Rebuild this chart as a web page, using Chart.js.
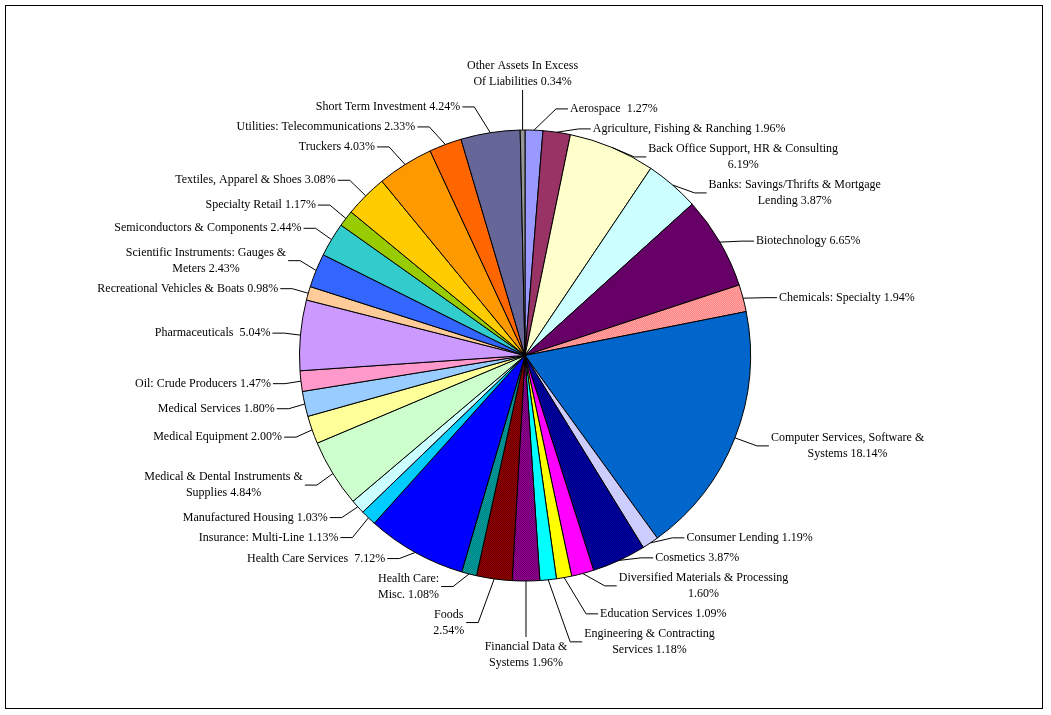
<!DOCTYPE html>
<html>
<head>
<meta charset="utf-8">
<title>Sector Allocation</title>
<script src="https://cdn.jsdelivr.net/npm/chart.js@4.4.0/dist/chart.umd.min.js"></script>
<style>
    html, body { margin: 0; padding: 0; background: #fff; }
    #wrap { width: 1051px; height: 715px; position: relative; }
</style>
</head>
<body>
<div id="wrap"><canvas id="sectorChart" width="1051" height="715"></canvas></div>
<script>
// Sector names, clockwise from 12 o'clock ("\n" = forced line break in the label)
const sectors = [
    'Aerospace ',
    'Agriculture, Fishing & Ranching',
    'Back Office Support, HR & Consulting\n',
    'Banks: Savings/Thrifts & Mortgage\nLending',
    'Biotechnology',
    'Chemicals: Specialty',
    'Computer Services, Software &\nSystems',
    'Consumer Lending',
    'Cosmetics',
    'Diversified Materials & Processing\n',
    'Education Services',
    'Engineering & Contracting\nServices',
    'Financial Data &\nSystems',
    'Foods\n',
    'Health Care:\nMisc.',
    'Health Care Services ',
    'Insurance: Multi-Line',
    'Manufactured Housing',
    'Medical & Dental Instruments &\nSupplies',
    'Medical Equipment',
    'Medical Services',
    'Oil: Crude Producers',
    'Pharmaceuticals ',
    'Recreational Vehicles & Boats',
    'Scientific Instruments: Gauges &\nMeters',
    'Semiconductors & Components',
    'Specialty Retail',
    'Textiles, Apparel & Shoes',
    'Truckers',
    'Utilities: Telecommunications',
    'Short Term Investment',
    'Other Assets In Excess\nOf Liabilities'
];

// Percent of net assets
const weights = [
    1.27, 1.96, 6.19, 3.87, 6.65, 1.94, 18.14, 1.19, 3.87, 1.60, 1.09,
    1.18, 1.96, 2.54, 1.08, 7.12, 1.13, 1.03, 4.84, 2.00, 1.80, 1.47,
    5.04, 0.98, 2.43, 2.44, 1.17, 3.08, 4.03, 2.33, 4.24, 0.34
];

// Fill colours (second entry = checker tone for the dotted slices)
const sliceColors = [
    '#9999ff', '#993366', '#ffffcc', '#ccffff', '#660066', ['#ff8080', '#ffa8a8'],
    '#0066cc', '#ccccff', ['#000080', '#0000a8'], '#ff00ff', '#ffff00',
    '#00ffff', ['#990099', '#660066'], ['#990000', '#660000'], ['#008080', '#00a0a0'],
    '#0000ff', '#00ccff', '#ccffff', '#ccffcc', '#ffff99', '#99ccff', '#ff99cc',
    '#cc99ff', '#ffcc99', '#3366ff', '#33cccc', '#99cc00', '#ffcc00', '#ff9900',
    '#ff6600', '#666699', '#969696'
];

const canvas = document.getElementById('sectorChart');
const mainCtx = canvas.getContext('2d');

/**
 * Build a 1px checkerboard pattern from two tones
 */
function checker(c1, c2) {
    const tile = document.createElement('canvas');
    tile.width = 2;
    tile.height = 2;
    const g = tile.getContext('2d');
    g.fillStyle = c1;
    g.fillRect(0, 0, 2, 2);
    g.fillStyle = c2;
    g.fillRect(0, 0, 1, 1);
    g.fillRect(1, 1, 1, 1);
    return mainCtx.createPattern(tile, 'repeat');
}

const fills = sliceColors.map(c => Array.isArray(c) ? checker(c[0], c[1]) : c);

function labelText(i) {
    const name = sectors[i];
    const sep = name.endsWith('\n') ? '' : ' ';
    return name + sep + weights[i].toFixed(2) + '%';
}

/**
 * Draws the outside labels with leader lines and the outer frame
 */
const outsideLabels = {
    id: 'outsideLabels',
    afterDatasetsDraw(chart) {
        const ctx = chart.ctx;
        const arcs = chart.getDatasetMeta(0).data;
        const lh = 16;
        ctx.save();
        ctx.font = '12px "Liberation Serif", "Times New Roman", serif';

        const items = arcs.map((arc, i) => {
            const p = arc.getProps(['x', 'y', 'startAngle', 'endAngle', 'outerRadius'], true);
            const mid = (p.startAngle + p.endAngle) / 2;
            const cx = Math.cos(mid);
            const sy = Math.sin(mid);
            const ax = p.x + p.outerRadius * cx;
            const ay = p.y + p.outerRadius * sy;
            const lines = labelText(i).split('\n');
            const w = Math.max(...lines.map(l => ctx.measureText(l).width));
            const h = lines.length * lh;
            let side;
            if (cx > 0.03) side = 'right';
            else if (cx < -0.03) side = 'left';
            else side = sy < 0 ? 'top' : 'bottom';
            // upper-right labels sit level with their slice, the rest drift outward
            const drift = (side === 'right' && sy < 0) ? 2 : 22;
            return { ax, ay, lines, w, h, side, y: ay + sy * drift };
        });

        // push labels on each side apart so they don't overlap
        ['left', 'right'].forEach(side => {
            const list = items.filter(it => it.side === side).sort((a, b) => a.y - b.y);
            for (let k = 0; k < 500; k++) {
                for (let j = 1; j < list.length; j++) {
                    const a = list[j - 1];
                    const b = list[j];
                    const need = (a.h + b.h) / 2 + 4;
                    const d = b.y - a.y;
                    if (d < need) {
                        const s = (need - d) / 2;
                        a.y -= s;
                        b.y += s;
                    }
                }
            }
        });

        ctx.strokeStyle = '#000';
        ctx.lineWidth = 1;
        ctx.fillStyle = '#000';
        ctx.textAlign = 'center';
        ctx.textBaseline = 'middle';

        items.forEach(it => {
            let centerX, top;
            ctx.beginPath();
            ctx.moveTo(it.ax, it.ay);
            if (it.side === 'right') {
                const edge = it.ax + 36;
                centerX = edge + it.w / 2;
                top = it.y - it.h / 2;
                ctx.lineTo(edge - 14, it.y);
                ctx.lineTo(edge - 2, it.y);
            } else if (it.side === 'left') {
                const edge = it.ax - 30;
                centerX = edge - it.w / 2;
                top = it.y - it.h / 2;
                ctx.lineTo(edge + 14, it.y);
                ctx.lineTo(edge + 2, it.y);
            } else if (it.side === 'top') {
                centerX = it.ax;
                top = it.ay - 40 - it.h;
                ctx.lineTo(it.ax, it.ay - 40);
            } else {
                centerX = it.ax;
                top = it.ay + 58;
                ctx.lineTo(it.ax, it.ay + 56);
            }
            ctx.stroke();
            it.lines.forEach((line, k) => {
                ctx.fillText(line, centerX, top + lh * (k + 0.5));
            });
        });

        // outer frame
        ctx.strokeRect(5.5, 5.5, 1037, 703);
        ctx.restore();
    }
};

new Chart(canvas, {
    type: 'pie',
    data: {
        labels: sectors,
        datasets: [{
            data: weights,
            backgroundColor: fills,
            borderColor: '#000',
            borderWidth: 1,
            hoverOffset: 0,
            offset: 0
        }]
    },
    options: {
        responsive: false,
        animation: false,
        events: [],
        layout: {
            padding: { left: 299, right: 300, top: 129, bottom: 133 }
        },
        plugins: {
            legend: { display: false },
            tooltip: { enabled: false }
        }
    },
    plugins: [outsideLabels]
});
</script>
</body>
</html>
